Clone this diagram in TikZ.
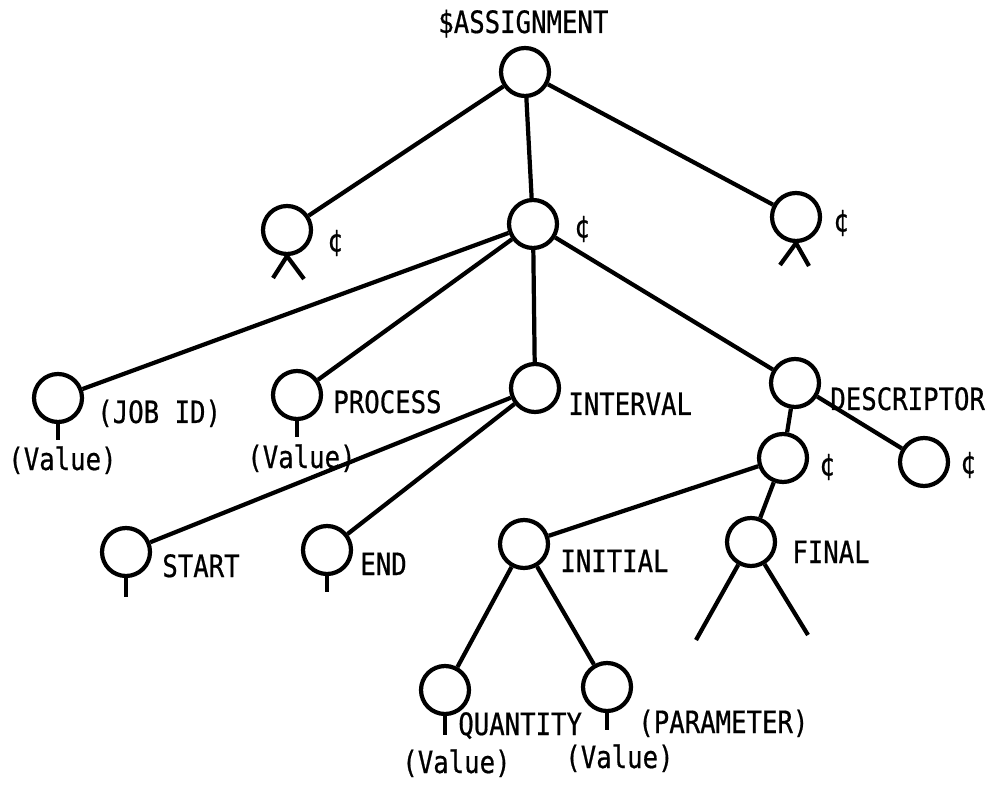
\documentclass[tikz,border=0pt]{standalone}
\usepackage{fontspec}
\newfontfamily\tw[FakeStretch=0.835,FakeBold=0.6]{DejaVu Sans Mono}
\begin{document}
\begin{tikzpicture}[x=0.02cm,y=-0.02cm,
  nd/.style={circle,draw,line width=2.4pt,minimum size=0.96cm,inner sep=0pt},
  lbl/.style={anchor=base west,inner sep=0pt,font=\tw\fontsize{17.5}{19}\selectfont},
  cent/.style={anchor=center,inner sep=0pt,font=\tw\fontsize{17.5}{19}\selectfont},
  edge/.style={line width=2.4pt}]
\path[use as bounding box,fill=white] (0,0) rectangle (996,786);

% nodes
\node[nd] (root) at (525,72) {};
\node[nd] (L) at (287,230) {};
\node[nd] (M) at (533,224) {};
\node[nd] (R) at (796,217) {};
\node[nd] (job) at (58,398) {};
\node[nd] (proc) at (297,395) {};
\node[nd] (intv) at (535,388) {};
\node[nd] (desc) at (795,383) {};
\node[nd] (start) at (126,552) {};
\node[nd] (endn) at (327,550) {};
\node[nd] (dA) at (783,458) {};
\node[nd] (dB) at (924,462) {};
\node[nd] (init) at (524,544) {};
\node[nd] (final) at (751,542) {};
\node[nd] (qty) at (445,690) {};
\node[nd] (par) at (607,687) {};

% free ends
\coordinate (La) at (273,278);
\coordinate (Lb) at (304,279);
\coordinate (Ra) at (780,265);
\coordinate (Rb) at (809,266);
\coordinate (Fa) at (696,640);
\coordinate (Fb) at (808,635);
\coordinate (jobS) at (58,440);
\coordinate (procS) at (297,437);
\coordinate (startS) at (126,597);
\coordinate (endS) at (327,592);
\coordinate (qtyS) at (445,735);
\coordinate (parS) at (607,730);

% connectors
\draw[edge] (root) -- (L);
\draw[edge] (root) -- (M);
\draw[edge] (root) -- (R);
\draw[edge] (M) -- (job);
\draw[edge] (M) -- (proc);
\draw[edge] (M) -- (intv);
\draw[edge] (M) -- (desc);
\draw[edge] (intv) -- (start);
\draw[edge] (intv) -- (endn);
\draw[edge] (desc) -- (dA);
\draw[edge] (desc) -- (dB);
\draw[edge] (dA) -- (init);
\draw[edge] (dA) -- (final);
\draw[edge] (init) -- (qty);
\draw[edge] (init) -- (par);
\draw[edge] (L.south) -- (La);
\draw[edge] (L.south) -- (Lb);
\draw[edge] (R.south) -- (Ra);
\draw[edge] (R.south) -- (Rb);
\draw[edge] (final) -- (Fa);
\draw[edge] (final) -- (Fb);
\draw[edge] (job.south) -- (jobS);
\draw[edge] (proc.south) -- (procS);
\draw[edge] (start.south) -- (startS);
\draw[edge] (endn.south) -- (endS);
\draw[edge] (qty.south) -- (qtyS);
\draw[edge] (par.south) -- (parS);

% labels
\node[lbl] (t1) at (438,33) {\$ASSIGNMENT};
\node[cent] (c1) at (335,243) {¢};
\node[cent] (c2) at (582,229) {¢};
\node[cent] (c3) at (841,223) {¢};
\node[lbl] (t2) at (97,423) {(JOB ID)};
\node[lbl] (t3) at (8,470) {(Value)};
\node[lbl] (t4) at (333,413) {PROCESS};
\node[lbl] (t5) at (247,468) {(Value)};
\node[lbl] (t6) at (568,415) {INTERVAL};
\node[lbl] (t7) at (830,410) {DESCRIPTOR};
\node[cent] (c4) at (827,467) {¢};
\node[cent] (c5) at (968,465) {¢};
\node[lbl] (t8) at (162,577) {START};
\node[lbl] (t9) at (360,575) {END};
\node[lbl] (t10) at (560,572) {INITIAL};
\node[lbl] (t11) at (792,563) {FINAL};
\node[lbl] (t12) at (458,735) {QUANTITY};
\node[lbl] (t13) at (402,773) {(Value)};
\node[lbl] (t14) at (638,733) {(PARAMETER)};
\node[lbl] (t15) at (565,768) {(Value)};
\end{tikzpicture}
\end{document}
